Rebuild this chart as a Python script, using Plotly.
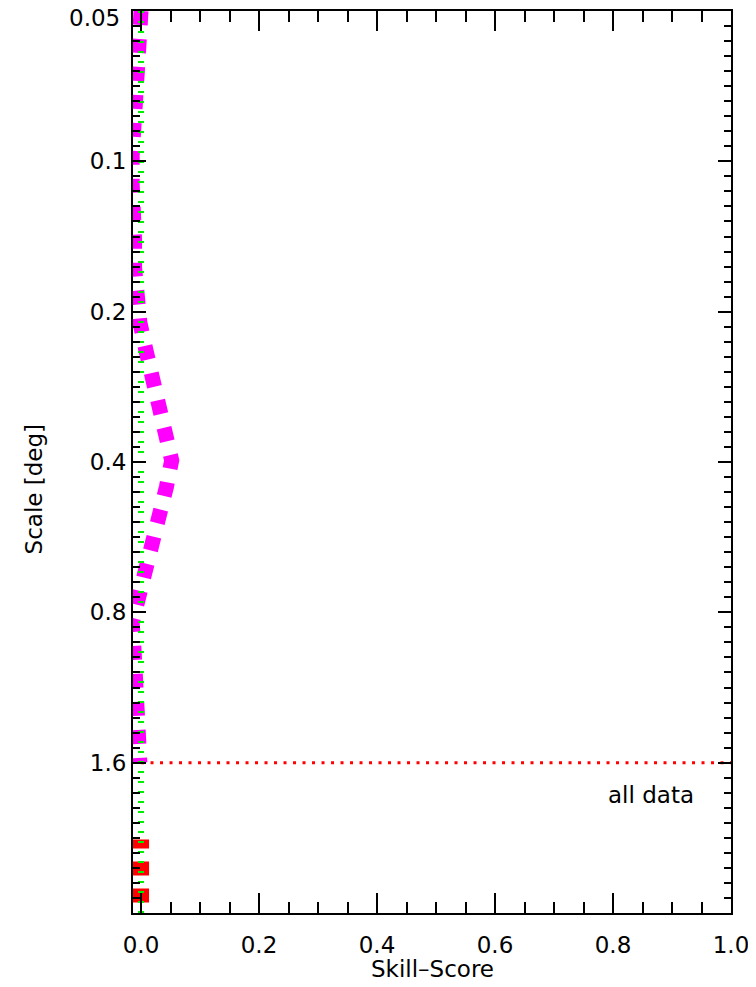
import numpy as np
import plotly.graph_objects as go

# ---- data ----
scale_deg = [0.05, 0.058, 0.0664, 0.075, 0.0853, 0.0972, 0.111, 0.1263, 0.143, 0.163,
             0.185, 0.21, 0.238, 0.272, 0.308, 0.349, 0.397, 0.449, 0.509, 0.576,
             0.653, 0.742, 0.841, 0.943, 1.084, 1.239, 1.403, 1.6]
skill_score = [0.0, -0.004, -0.006, -0.010, -0.011, -0.015, -0.015, -0.011, -0.011, -0.011,
               -0.0085, -0.002, 0.008, 0.0195, 0.029, 0.0415, 0.052, 0.043, 0.031, 0.0195,
               0.007, -0.007, -0.015, -0.012, -0.009, -0.006, -0.005, -0.002]

alldata_scale = [3.05, 2.28]
alldata_skill = [0.0, 0.0]

ref_scale = [0.05, 3.2]
ref_skill = [0.0, 0.0]

sep_scale = [1.6, 1.6]
sep_skill = [0.0, 1.0]

y_major = [0.05, 0.1, 0.2, 0.4, 0.8, 1.6, 3.2]
y_major_text = ["", "0.1", "0.2", "0.4", "0.8", "1.6", ""]
top_label = "0.05"
x_major = [0.0, 0.2, 0.4, 0.6, 0.8, 1.0]
x_major_text = ["0.0", "0.2", "0.4", "0.6", "0.8", "1.0"]

y_minor = [0.05 * 2 ** (k / 10) for k in range(61) if k % 10 != 0]
x_minor = [round(0.05 * k, 2) for k in range(21) if k % 4 != 0]

FONT = "DejaVu Sans"
FS = 23

fig = go.Figure()
fig.add_trace(go.Scatter(x=skill_score, y=scale_deg, mode="lines", cliponaxis=False,
                         line=dict(color="#ff00ff", width=15, dash="14px,14px"),
                         showlegend=False, hoverinfo="skip"))
fig.add_trace(go.Scatter(x=alldata_skill, y=alldata_scale, mode="lines", cliponaxis=False,
                         line=dict(color="#ff0000", width=16, dash="14px,13px"),
                         showlegend=False, hoverinfo="skip"))
fig.add_trace(go.Scatter(x=sep_skill, y=sep_scale, mode="lines",
                         line=dict(color="#ff0000", width=3, dash="3px,6.5px"),
                         showlegend=False, hoverinfo="skip"))
fig.add_trace(go.Scatter(x=ref_skill, y=ref_scale, mode="lines",
                         line=dict(color="#00ee00", width=6, dash="2px,8px"),
                         showlegend=False, hoverinfo="skip"))

fig.add_annotation(x=0.864, y=np.log10(1.86), xref="x", yref="y", text="all data",
                   showarrow=False, font=dict(family=FONT, size=FS, color="black"))
# top tick label, nudged inside the page as in the reference
fig.add_annotation(x=-0.018, y=1.0, xref="paper", yref="paper", text=top_label,
                   showarrow=False, xanchor="right", yanchor="top", yshift=8,
                   font=dict(family=FONT, size=FS, color="black"))
fig.add_annotation(x=-0.165, y=0.47, xref="paper", yref="paper", text="Scale [deg]",
                   textangle=-90, showarrow=False, xanchor="center", yanchor="middle",
                   font=dict(family=FONT, size=FS, color="black"))
fig.add_annotation(x=0.5, y=-0.062, xref="paper", yref="paper", text="Skill\u2013Score",
                   showarrow=False, xanchor="center", yanchor="middle",
                   font=dict(family=FONT, size=FS, color="black"))

fig.update_xaxes(range=[-0.0136, 1.0], tickvals=x_major, ticktext=x_major_text,
                 ticks="inside", ticklen=20, tickwidth=2, tickcolor="black",
                 showline=True, linecolor="black", linewidth=2, mirror="ticks",
                 showgrid=False, zeroline=False, ticklabelstandoff=10,
                 automargin=False, ticklabeloverflow="allow",
                 tickfont=dict(family=FONT, size=FS, color="black"),
                 minor=dict(tickvals=x_minor, ticks="inside", ticklen=11,
                            tickwidth=2, tickcolor="black", showgrid=False))
fig.update_yaxes(type="log", range=[np.log10(3.2), np.log10(0.05)],
                 tickvals=y_major, ticktext=y_major_text,
                 ticks="inside", ticklen=13, tickwidth=2, tickcolor="black",
                 showline=True, linecolor="black", linewidth=2, mirror="ticks",
                 showgrid=False, zeroline=False, ticklabelstandoff=0,
                 automargin=False, ticklabeloverflow="allow",
                 tickfont=dict(family=FONT, size=FS, color="black"),
                 minor=dict(tickvals=y_minor, ticks="inside", ticklen=7,
                            tickwidth=2, tickcolor="black", showgrid=False))

# page body has an 8px margin, so the figure is 8px smaller and margins shifted
fig.update_layout(width=748, height=979, margin=dict(l=125, r=25, t=3, b=74),
                  paper_bgcolor="white", plot_bgcolor="white")

fig.write_html("out.html")
